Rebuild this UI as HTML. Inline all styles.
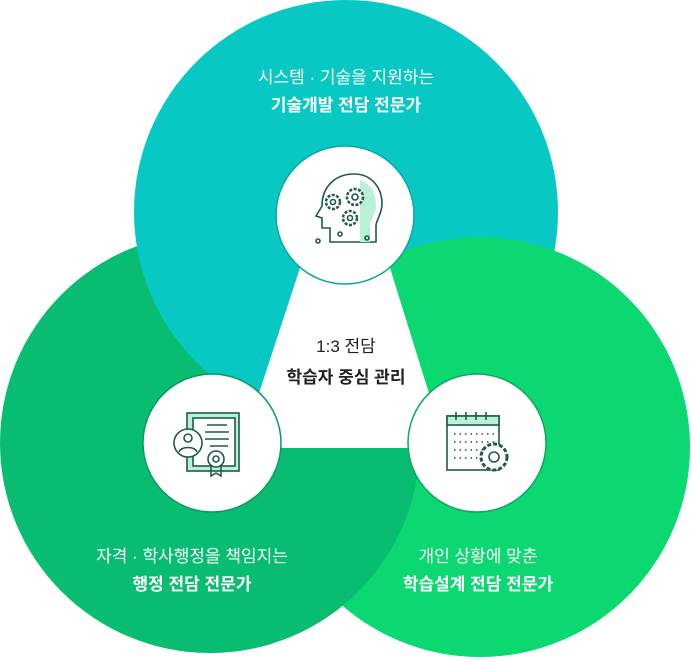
<!DOCTYPE html>
<html><head><meta charset="utf-8"><style>
html,body{margin:0;padding:0;background:#fff;}
body{width:691px;height:658px;overflow:hidden;}
svg text{font-family:"Liberation Sans","Noto Sans CJK KR",sans-serif;}
</style></head><body>
<svg width="691" height="658" viewBox="0 0 691 658" xmlns="http://www.w3.org/2000/svg">
<defs>
<clipPath id="cr"><circle cx="480" cy="447" r="210"/></clipPath>
</defs>
<circle cx="210" cy="443" r="210" fill="#08bd72"/>
<circle cx="346" cy="212" r="212" fill="#08c8c4"/>
<circle cx="480" cy="447" r="210" fill="#0cd872"/>
<circle cx="210" cy="443" r="210" fill="#08bd72" clip-path="url(#cr)"/>
<polygon points="300,268 390,268 446,448 241,448" fill="#fff"/>
<circle cx="345" cy="215" r="69" fill="#fff" stroke="#0aa8a0" stroke-width="1.5"/>
<circle cx="212" cy="443" r="69" fill="#fff" stroke="#0a9a60" stroke-width="1.5"/>
<circle cx="477" cy="443" r="69" fill="#fff" stroke="#0aa860" stroke-width="1.5"/>
<g fill="none" stroke="#1f5a4a" stroke-width="1.6">
<path d="M330,242 v-14 h-8 v-10 l-6,-2 6,-10 c0,-20 14,-32 32,-32 c18,0 28,14 28,30 c0,10 -6,16 -6,22 v16 z" fill="#fff"/>
<path d="M360,180 c12,4 16,14 16,26 c0,8 -6,14 -6,20 v16 h-10" fill="#b8f0d8" stroke="none"/>
<circle cx="333" cy="202" r="7" fill="#fff" stroke-dasharray="3 1.5" stroke-width="2.5"/><circle cx="333" cy="202" r="2.5"/>
<circle cx="355" cy="197" r="8" fill="#fff" stroke-dasharray="3 1.5" stroke-width="2.5"/><circle cx="355" cy="197" r="3"/>
<circle cx="350" cy="218" r="7" fill="#fff" stroke-dasharray="3 1.5" stroke-width="2.5"/><circle cx="350" cy="218" r="2.5"/>
<circle cx="318" cy="241" r="2"/><circle cx="367" cy="238" r="2"/><circle cx="340" cy="234" r="2"/>
</g>
<g fill="none" stroke="#1f5a4a" stroke-width="1.6">
<rect x="187" y="413" width="52" height="58" fill="#b8f0d8"/>
<rect x="193" y="418" width="42" height="48" fill="#fff"/>
<path d="M207,425 h20 M205,432 h24 M205,439 h24 M210,446 h18"/>
<circle cx="188" cy="443" r="14" fill="#fff"/>
<circle cx="188" cy="438" r="4"/><path d="M179,452 c2,-6 16,-6 18,0"/>
<circle cx="216" cy="459" r="8" fill="#fff"/><circle cx="216" cy="459" r="3"/>
<path d="M211,466 v10 l5,-3 5,3 v-10"/>
</g>
<g fill="none" stroke="#1f5a4a" stroke-width="1.6">
<rect x="447" y="416" width="52" height="54" fill="#fff"/>
<rect x="447" y="416" width="52" height="9" fill="#b8f0d8"/>
<path d="M456,412 v8 M466,412 v8 M476,412 v8 M486,412 v8"/>
<g stroke-dasharray="1.5 4"><path d="M454,434 h40 M454,442 h40 M454,450 h30 M454,458 h26"/></g>
<circle cx="494" cy="457" r="13" fill="#fff" stroke-dasharray="4 2" stroke-width="3"/>
<circle cx="494" cy="457" r="5"/>
</g>
<g fill="#fff" font-size="17" text-anchor="middle">
<text x="346" y="83">시스템 · 기술을 지원하는</text>
<text x="346" y="111" font-weight="bold">기술개발 전담 전문가</text>
<text x="192" y="562">자격 · 학사행정을 책임지는</text>
<text x="192" y="590" font-weight="bold">행정 전담 전문가</text>
<text x="478" y="562">개인 상황에 맞춘</text>
<text x="478" y="590" font-weight="bold">학습설계 전담 전문가</text>
</g>
<g fill="#222" font-size="17" text-anchor="middle">
<text x="346" y="352">1:3 전담</text>
<text x="346" y="383" font-weight="bold">학습자 중심 관리</text>
</g>
</svg>
</body></html>
